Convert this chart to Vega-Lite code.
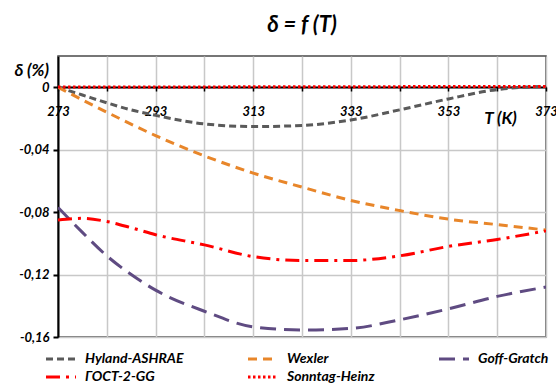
{
  "$schema": "https://vega.github.io/schema/vega-lite/v6.json",
  "width": 488,
  "height": 281,
  "autosize": {"type": "none"},
  "padding": {"left": 58, "top": 56, "right": 10, "bottom": 48},
  "background": "white",
  "title": {
    "text": "δ = f (T)",
    "font": "Lato",
    "fontSize": 22,
    "fontWeight": "bold",
    "fontStyle": "italic",
    "color": "#000000",
    "anchor": "middle",
    "offset": 19
  },
  "config": {
    "view": {"stroke": "#4a4a4a", "strokeWidth": 1.5},
    "legend": {"labelFont": "Lato", "titleFont": "Lato"}
  },
  "data": {
    "values": [
      {"T": 273, "delta": 0, "series": "Hyland-ASHRAE"},
      {"T": 278, "delta": -0.005, "series": "Hyland-ASHRAE"},
      {"T": 283, "delta": -0.0100, "series": "Hyland-ASHRAE"},
      {"T": 288, "delta": -0.0145, "series": "Hyland-ASHRAE"},
      {"T": 293, "delta": -0.0180, "series": "Hyland-ASHRAE"},
      {"T": 303, "delta": -0.0235, "series": "Hyland-ASHRAE"},
      {"T": 313, "delta": -0.0252, "series": "Hyland-ASHRAE"},
      {"T": 323, "delta": -0.0245, "series": "Hyland-ASHRAE"},
      {"T": 333, "delta": -0.0210, "series": "Hyland-ASHRAE"},
      {"T": 343, "delta": -0.0145, "series": "Hyland-ASHRAE"},
      {"T": 353, "delta": -0.0075, "series": "Hyland-ASHRAE"},
      {"T": 363, "delta": -0.0015, "series": "Hyland-ASHRAE"},
      {"T": 373, "delta": 0.0005, "series": "Hyland-ASHRAE"},

      {"T": 273, "delta": 0, "series": "Wexler"},
      {"T": 283, "delta": -0.016, "series": "Wexler"},
      {"T": 293, "delta": -0.031, "series": "Wexler"},
      {"T": 303, "delta": -0.044, "series": "Wexler"},
      {"T": 313, "delta": -0.055, "series": "Wexler"},
      {"T": 323, "delta": -0.064, "series": "Wexler"},
      {"T": 333, "delta": -0.0725, "series": "Wexler"},
      {"T": 343, "delta": -0.079, "series": "Wexler"},
      {"T": 353, "delta": -0.0845, "series": "Wexler"},
      {"T": 363, "delta": -0.088, "series": "Wexler"},
      {"T": 373, "delta": -0.0915, "series": "Wexler"},

      {"T": 273, "delta": -0.077, "series": "Goff-Gratch"},
      {"T": 278, "delta": -0.093, "series": "Goff-Gratch"},
      {"T": 283, "delta": -0.108, "series": "Goff-Gratch"},
      {"T": 288, "delta": -0.120, "series": "Goff-Gratch"},
      {"T": 293, "delta": -0.130, "series": "Goff-Gratch"},
      {"T": 303, "delta": -0.1435, "series": "Goff-Gratch"},
      {"T": 313, "delta": -0.1535, "series": "Goff-Gratch"},
      {"T": 323, "delta": -0.1555, "series": "Goff-Gratch"},
      {"T": 333, "delta": -0.1545, "series": "Goff-Gratch"},
      {"T": 343, "delta": -0.149, "series": "Goff-Gratch"},
      {"T": 353, "delta": -0.142, "series": "Goff-Gratch"},
      {"T": 363, "delta": -0.134, "series": "Goff-Gratch"},
      {"T": 373, "delta": -0.128, "series": "Goff-Gratch"},

      {"T": 273, "delta": -0.085, "series": "ГОСТ-2-GG"},
      {"T": 278, "delta": -0.084, "series": "ГОСТ-2-GG"},
      {"T": 283, "delta": -0.086, "series": "ГОСТ-2-GG"},
      {"T": 288, "delta": -0.090, "series": "ГОСТ-2-GG"},
      {"T": 293, "delta": -0.0945, "series": "ГОСТ-2-GG"},
      {"T": 303, "delta": -0.101, "series": "ГОСТ-2-GG"},
      {"T": 313, "delta": -0.1085, "series": "ГОСТ-2-GG"},
      {"T": 323, "delta": -0.111, "series": "ГОСТ-2-GG"},
      {"T": 333, "delta": -0.111, "series": "ГОСТ-2-GG"},
      {"T": 343, "delta": -0.108, "series": "ГОСТ-2-GG"},
      {"T": 353, "delta": -0.102, "series": "ГОСТ-2-GG"},
      {"T": 363, "delta": -0.0975, "series": "ГОСТ-2-GG"},
      {"T": 373, "delta": -0.092, "series": "ГОСТ-2-GG"},

      {"T": 273, "delta": 0.0002, "series": "Sonntag-Heinz"},
      {"T": 298, "delta": 0.0002, "series": "Sonntag-Heinz"},
      {"T": 323, "delta": 0.0003, "series": "Sonntag-Heinz"},
      {"T": 348, "delta": 0.0004, "series": "Sonntag-Heinz"},
      {"T": 373, "delta": 0.0005, "series": "Sonntag-Heinz"}
    ]
  },
  "mark": {"type": "line", "strokeWidth": 3, "clip": true, "interpolate": "monotone"},
  "encoding": {
    "x": {
      "field": "T",
      "type": "quantitative",
      "scale": {"domain": [273, 373], "nice": false, "zero": false},
      "axis": {
        "values": [273, 283, 293, 303, 313, 323, 333, 343, 353, 363, 373],
        "labelExpr": "(datum.value - 273) % 20 == 0 ? datum.label : ''",
        "gridColor": "#c8c8c8",
        "gridWidth": 1.5,
        "offset": -250,
        "domainColor": "#000000",
        "domainWidth": 2,
        "tickColor": "#000000",
        "tickWidth": 1.5,
        "tickSize": 4,
        "labelFont": "Lato",
        "labelFontSize": 13,
        "labelFontWeight": "bold",
        "labelFontStyle": "italic",
        "labelColor": "#000000",
        "labelPadding": 14,
        "labelFlush": false,
        "labelOverlap": false,
        "title": "T (K)",
        "titleFont": "Lato",
        "titleFontSize": 17,
        "titleFontWeight": "bold",
        "titleFontStyle": "italic",
        "titleColor": "#000000",
        "titleAlign": "center",
        "titleBaseline": "middle",
        "titleX": 442,
        "titleY": 31
      }
    },
    "y": {
      "field": "delta",
      "type": "quantitative",
      "scale": {"domain": [-0.16, 0.02], "nice": false, "zero": false},
      "axis": {
        "values": [0, -0.04, -0.08, -0.12, -0.16],
        "labelExpr": "replace(toString(datum.value), '.', ',')",
        "gridColor": "#c8c8c8",
        "gridWidth": 1.5,
        "domainColor": "#000000",
        "domainWidth": 2,
        "tickColor": "#000000",
        "tickWidth": 2,
        "tickSize": 5,
        "labelFont": "Lato",
        "labelFontSize": 13,
        "labelFontWeight": "bold",
        "labelFontStyle": "italic",
        "labelColor": "#000000",
        "labelPadding": 4,
        "title": "δ (%)",
        "titleFont": "Lato",
        "titleFontSize": 17,
        "titleFontWeight": "bold",
        "titleFontStyle": "italic",
        "titleColor": "#000000",
        "titleAngle": 0,
        "titleAlign": "left",
        "titleBaseline": "middle",
        "titleX": -44,
        "titleY": 14
      }
    },
    "color": {
      "field": "series",
      "type": "nominal",
      "scale": {
        "domain": ["Hyland-ASHRAE", "Wexler", "Goff-Gratch", "ГОСТ-2-GG", "Sonntag-Heinz"],
        "range": ["#5a5a5a", "#e8862a", "#5f4b82", "#ff0000", "#ff0000"]
      },
      "legend": {
        "title": null,
        "orient": "none",
        "legendX": -6,
        "legendY": 294,
        "direction": "horizontal",
        "columns": 3,
        "columnPadding": 58,
        "rowPadding": 2,
        "symbolType": "M-2,0H2",
        "symbolSize": 225,
        "symbolStrokeWidth": 3,
        "labelFont": "Lato",
        "labelFontSize": 14,
        "labelFontWeight": "bold",
        "labelFontStyle": "italic",
        "labelColor": "#000000",
        "labelOffset": 15,
        "labelLimit": 200,
        "padding": 0,
        "offset": 0
      }
    },
    "strokeDash": {
      "field": "series",
      "type": "nominal",
      "scale": {
        "domain": ["Hyland-ASHRAE", "Wexler", "Goff-Gratch", "ГОСТ-2-GG", "Sonntag-Heinz"],
        "range": [[7, 4], [9, 6], [16, 8], [14, 6, 3, 6], [2.5, 2.5]]
      },
      "legend": null
    }
  }
}
